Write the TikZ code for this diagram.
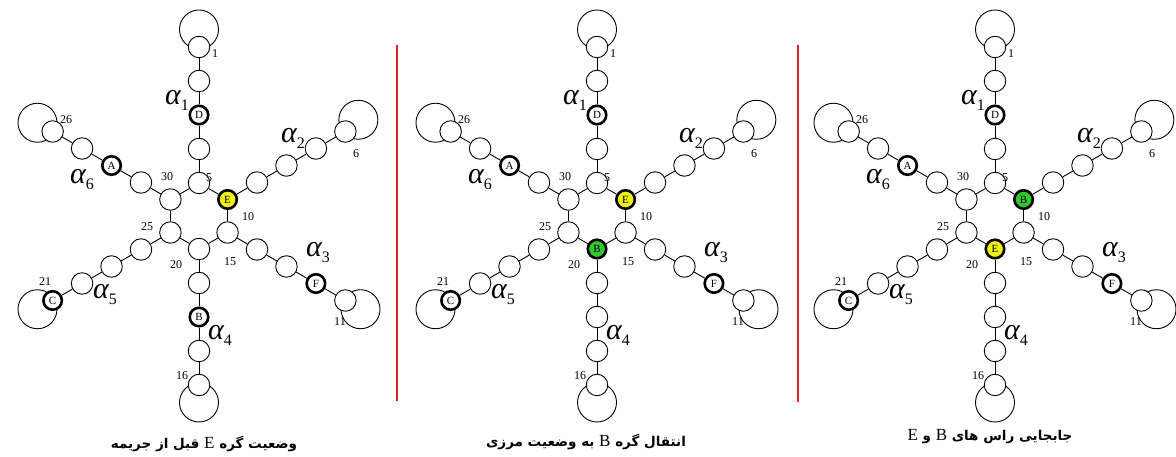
\documentclass[tikz,border=0pt]{standalone}
\usepackage{fontspec}
\setmainfont{Liberation Serif}
\newfontfamily\arabicfont[Script=Arabic]{DejaVu Sans}
\TeXXeTstate=1
\usetikzlibrary{calc}
\definecolor{hiyel}{RGB}{240,240,20}
\definecolor{higrn}{RGB}{50,200,50}
\definecolor{sepred}{RGB}{210,40,40}
\pgfdeclarelayer{bg}
\pgfsetlayers{bg,main}
\tikzset{
  v/.style={circle,draw,line width=0.9pt,fill=white,minimum size=21.5pt,inner sep=0pt,font=\fontsize{11}{11}\selectfont},
  tagged/.style={line width=2.6pt,minimum size=18.5pt},
  yel/.style={tagged,fill=hiyel},
  grn/.style={tagged,fill=higrn},
  lp/.style={draw,line width=0.9pt},
  ed/.style={line width=0.9pt},
  num/.style={inner sep=0pt,font=\fontsize{12}{12}\selectfont},
  alab/.style={inner sep=0pt,font=\fontsize{30}{30}\selectfont\itshape},
  sepline/.style={line width=1.2pt,draw=sepred},
  captext/.style={inner sep=0pt,font=\arabicfont\bfseries\fontsize{13.5}{13.5}\selectfont},
}
\newcommand\lat[1]{{\rmfamily\mdseries\fontsize{17}{17}\selectfont\beginL#1\endL}}
\newcommand\asub[1]{α\raisebox{-6pt}{\fontsize{16}{16}\selectfont\upshape #1}}
\newcommand\panel[8]{%
  \foreach \ar/\ang in {1/90,2/30,3/-30,4/-90,5/-150,6/150} {
    \foreach \jj in {0,...,4} {
      \pgfmathtruncatemacro\nn{5*\ar-\jj}
      \pgfmathsetmacro\rad{33+34*\jj}
      \def\txt{}\tikzset{cur/.style={}}
      \ifnum\nn=3 \def\txt{D}\tikzset{cur/.style={tagged}}\fi
      \ifnum\nn=12 \def\txt{F}\tikzset{cur/.style={tagged}}\fi
      \ifnum\nn=21 \def\txt{C}\tikzset{cur/.style={tagged}}\fi
      \ifnum\nn=28 \def\txt{A}\tikzset{cur/.style={tagged}}\fi
      \ifnum\nn=10 \def\txt{#4}\tikzset{cur/.style={#3}}\fi
      \ifnum\nn=18 \def\txt{#6}\tikzset{cur/.style={#5}}\fi
      \ifnum\nn=20 \def\txt{#8}\tikzset{cur/.style={#7}}\fi
      \node[v,cur] (p#1-\nn) at ($(#2,241)+(\ang:\rad)$) {\txt};
    }
  }
  \foreach \ar in {1,...,6} {
    \foreach \jj in {0,...,3} {
      \pgfmathtruncatemacro\mm{5*\ar-\jj}
      \pgfmathtruncatemacro\kk{\mm-1}
      \draw[ed] (p#1-\mm) -- (p#1-\kk);
    }
    \pgfmathtruncatemacro\mm{5*\ar}
    \pgfmathtruncatemacro\kk{mod(5*\ar,30)+5}
    \draw[ed] (p#1-\mm) -- (p#1-\kk);
  }
  \begin{pgfonlayer}{bg}
    \foreach \ar/\ang in {1/90,2/42,3/-30,4/-90,5/-150,6/150} {
      \pgfmathtruncatemacro\mm{5*\ar-4}
      \draw[lp] ($(p#1-\mm)+(\ang:17.5)$) circle[radius=19.5];
    }
  \end{pgfonlayer}
  \foreach \lbl/\dx/\dy in {1/16/-162,6/157/-62,11/141/106,16/-17/160,21/-154/66,26/-133/-96,5/10/-38,10/49/1,15/31/46,20/-23/49,25/-52/11,30/-32/-39} {
    \node[num] (p#1-l\lbl) at ({#2+\dx},{241-\dy}) {\lbl};
  }
  \foreach \lbl/\dx/\dy in {1/-22/-116,2/94/-78,3/119/37,4/21/119,5/-94/79,6/-117/-36} {
    \node[alab] (p#1-a\lbl) at ({#2+\dx},{241-\dy}) {\asub{\lbl}};
  }
}
\begin{document}
\begin{tikzpicture}[x=1pt,y=1pt]
\useasboundingbox (0,0) rectangle (1176,457);
\clip (0,0) rectangle (1176,457);
\panel{1}{199}{yel}{E}{tagged}{B}{}{}
\panel{2}{597}{yel}{E}{}{}{grn}{B}
\panel{3}{995}{grn}{B}{}{}{yel}{E}
\coordinate (s1t) at (397,412);
\coordinate (s1b) at (397,56);
\coordinate (s2t) at (798,412);
\coordinate (s2b) at (798,55);
\draw[sepline] (s1t) -- (s1b);
\draw[sepline] (s2t) -- (s2b);
\node[captext] (cap1) at (204,13) {\beginR وضعیت گره \lat{E} قبل از جریمه\endR};
\node[captext] (cap2) at (586,15) {\beginR انتقال گره \lat{B} به وضعیت مرزی\endR};
\node[captext] (cap3) at (990,20) {\beginR جابجایی راس های \lat{B} و \lat{E}\endR};
\end{tikzpicture}
\end{document}
